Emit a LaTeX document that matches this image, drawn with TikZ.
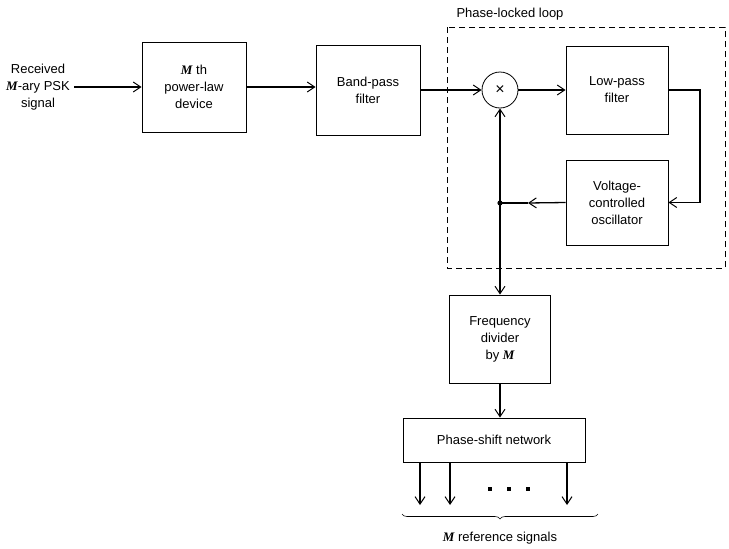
\documentclass[tikz,border=0pt]{standalone}
\usepackage{fontspec}
\setmainfont{Liberation Sans}
\newfontfamily\mfont{Liberation Serif}
\newcommand{\MM}{{\mfont\itshape\bfseries M}}
\usetikzlibrary{arrows.meta,decorations.pathreplacing,calc}
\begin{document}
\begin{tikzpicture}[x=1pt,y=-1pt,
  font=\fontsize{13}{17}\selectfont,
  blk/.style={draw, line width=0.8pt, inner sep=0pt, align=center},
  arr/.style={-{Straight Barb[length=7.5pt,width=10pt,line width=1pt]}, line width=1.3pt},
  ln/.style={line width=1.3pt},
  dotm/.style={fill, minimum size=3.2pt, inner sep=0pt}]
\useasboundingbox (0,0) rectangle (729,549);
% dashed PLL frame
\draw[line width=0.7pt, dash pattern=on 6pt off 4pt] (447,27) rectangle (725,268);
\node[anchor=west] (pll) at (453,14) {Phase-locked loop};
% blocks
\node (in) at (38,87) [align=center] {Received\\\MM-ary PSK\\signal};
\node[blk, minimum width=104pt, minimum height=90pt] (mth) at (194,87) {\MM{} th\\power-law\\device};
\node[blk, minimum width=104pt, minimum height=90pt] (bp) at (368,90) {Band-pass\\filter};
\node[draw, line width=0.8pt, circle, minimum size=36pt, inner sep=0pt] (mul) at (500,90) {\fontsize{16}{16}\selectfont ×};
\node[blk, minimum width=102pt, minimum height=88pt] (lp) at (617,90) {Low-pass\\filter};
\node[blk, minimum width=102pt, minimum height=85pt] (vco) at (617,202.5) {Voltage-\\controlled\\oscillator};
\node[blk, minimum width=101pt, minimum height=88pt] (fd) at (500,339) {Frequency\\divider\\by \MM};
\node[blk, minimum width=182pt, minimum height=44pt] (ps) at (494,440) {Phase-shift network};
\coordinate (j) at (500,203);
\coordinate (m) at (528,203);
\coordinate (r) at (700,90);
\coordinate (in0) at (74,87);
\coordinate (o1) at (420,505);
\coordinate (o2) at (450,505);
\coordinate (o3) at (567,505);
% connectors
\draw[arr] (in0) -- (mth.west);
\draw[arr] (mth.east) -- (mth.east -| bp.west);
\draw[arr] (bp.east) -- (mul.west);
\draw[arr] (mul.east) -- (mul.east -| lp.west);
\draw[arr] (lp.east) -- (r) |- (vco.east);
\draw[arr] (vco.west) -- (m);
\draw[ln] (m) -- (j);
\draw[arr] (j) -- (mul.south);
\draw[arr] (j) -- (fd.north);
\fill (j) circle (2.6pt);
\draw[arr] (fd.south) -- (fd.south |- ps.north);
\draw[arr] (ps.south -| o1) -- (o1);
\draw[arr] (ps.south -| o2) -- (o2);
\draw[arr] (ps.south -| o3) -- (o3);
\node[dotm] (d1) at (490,489) {};
\node[dotm] (d2) at (509,489) {};
\node[dotm] (d3) at (528,489) {};
\draw[line width=0.6pt, decorate, decoration={brace, mirror, amplitude=5pt}] (402,514) -- (598,514);
\node (lbl) at (500,538) {\MM{} reference signals};
\end{tikzpicture}
\end{document}
